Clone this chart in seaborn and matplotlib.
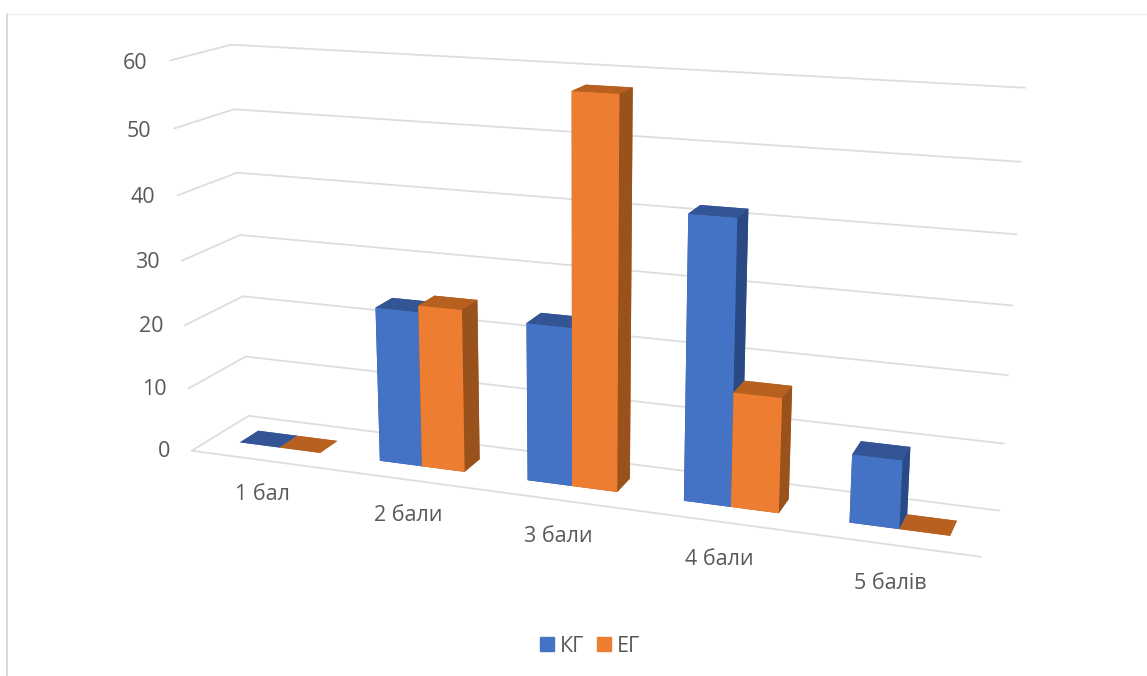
import matplotlib
matplotlib.use("Agg")
import matplotlib.pyplot as plt
from matplotlib.lines import Line2D
import seaborn as sns

# Survey scores by group, percent
categories = ["1 бал", "2 бали", "3 бали", "4 бали", "5 балів"]
kg_values = [0, 24, 24, 42, 10]
eg_values = [0, 25, 58, 17, 0]
series_names = ["КГ", "ЕГ"]
z_ticks = [0, 10, 20, 30, 40, 50, 60]

sns.set_theme(style="white")
plt.rcParams["font.family"] = ["Open Sans", "DejaVu Sans"]

W, H = 1147, 676
fig = plt.figure(figsize=(W / 100, H / 100), dpi=100, facecolor="white")

# Square 3D axes placed so the chart box is centred on the canvas area
S = 800
ax = fig.add_axes([168 / W, -17 / H, S / W, S / H], projection="3d",
                  computed_zorder=False)
ax.set_proj_type("persp", focal_length=0.445)
ax.view_init(elev=15, azim=-70)
ax.set_box_aspect((4.67, 0.68, 2.34), zoom=1.147)
ax.set_axis_off()
ax.patch.set_alpha(0)

grid_colour = "#DDDDDD"
text_colour = "#595959"

# Walls and floor rules
for z in z_ticks:
    ax.plot([0, 0, 5], [0, 1, 1], [z, z, z], color=grid_colour, lw=1.3,
            zorder=1, clip_on=False)
ax.plot([0, 5], [0, 0], [0, 0], color=grid_colour, lw=1.3, zorder=1, clip_on=False)

# Face shades for each series: bottom, top, front, back, left, right
palette = {
    "КГ": ["#335596", "#335596", "#4472C4", "#335596", "#335596", "#2A4A85"],
    "ЕГ": ["#B86020", "#B86020", "#ED7D31", "#B86020", "#B86020", "#9A521C"],
}

bar_w = 0.29
depth = 0.33
order = 2
for i, (kg, eg) in enumerate(zip(kg_values, eg_values)):
    for j, (name, value) in enumerate(zip(series_names, (kg, eg))):
        ax.bar3d(i + 0.5 - bar_w + j * bar_w, 0.5 - depth / 2, 0,
                 bar_w, depth, value, color=palette[name], shade=False,
                 linewidth=0, edgecolor="none", zorder=order, clip_on=False)
        order += 1

ax.set_xlim(0, 5, view_margin=0)
ax.set_ylim(0, 1, view_margin=0)
ax.set_zlim(0, 60, view_margin=0)
ax.set_xticks([])
ax.set_yticks([])
ax.set_zticks([])

for z in z_ticks:
    ax.text(-0.16, 0, z - 0.65, str(z), ha="right", va="center", fontsize=15.5,
            color=text_colour, zorder=50)

# Labels drift away from the bars towards the left end of the floor
label_shift = [0.30, 0.26, 0.20, 0.15, 0.10]
for i, label in enumerate(categories):
    ax.text(i + 0.5 + label_shift[i], -0.72, 0, label, ha="center", va="center",
            fontsize=15.5, color=text_colour, zorder=50)

fig.legend(
    handles=[Line2D([], [], ls="none", marker="s", ms=10, color="#4472C4"),
             Line2D([], [], ls="none", marker="s", ms=10, color="#ED7D31")],
    labels=series_names, loc="center", bbox_to_anchor=(590 / W, 1 - 646 / H),
    ncol=2, frameon=False, fontsize=15.5, labelcolor=text_colour,
    handlelength=0.7, handletextpad=0.25, columnspacing=0.55,
)

# Outer frame: top and left edges only
fig.add_artist(Line2D([7.5 / W, 1], [1 - 13.5 / H] * 2, color="#EBEBEB", lw=0.8))
fig.add_artist(Line2D([7.5 / W] * 2, [0, 1 - 13.5 / H], color="#D9D9D9", lw=1.4))

fig.savefig("out.png", dpi=100)
